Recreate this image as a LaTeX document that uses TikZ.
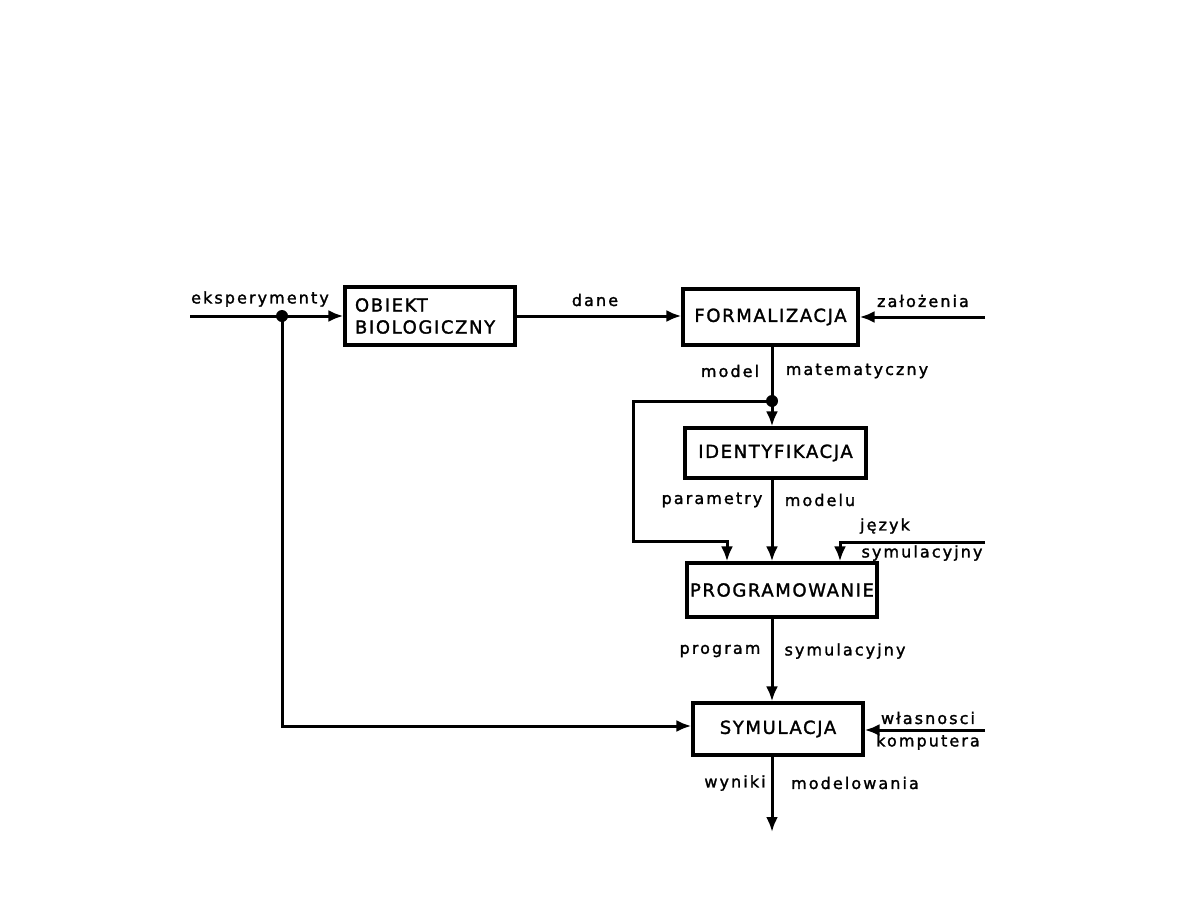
\documentclass[tikz,border=0pt]{standalone}
\usepackage{fontspec}
\setmainfont{DejaVu Sans}
\newfontfamily\boxfont{DejaVu Sans}[LetterSpace=9, FakeBold=1.6]
\newfontfamily\labfont{DejaVu Sans}[LetterSpace=13, FakeBold=1.6]
\usetikzlibrary{arrows.meta}

\begin{document}
\begin{tikzpicture}[x=1pt, y=-1pt,
    block/.style={draw, line width=3.2pt, inner sep=0pt, font=\boxfont\fontsize{18}{22}\selectfont},
    lab/.style={inner sep=0pt, font=\labfont\fontsize{16}{19}\selectfont},
    flow/.style={line width=3pt},
    arr/.style={flow, -{Latex[length=15pt,width=12pt]}},
    dot/.style={circle, fill, inner sep=0pt, minimum size=12pt}]
    \useasboundingbox (0,0) rectangle (1188,918);
    % bloki
    \node[block, minimum width=170pt, minimum height=58pt, align=left, text width=150pt] (obiekt) at (430,316) {OBIEKT\\BIOLOGICZNY};
    \node[block, minimum width=175pt, minimum height=56pt] (formal) at (770.5,317) {FORMALIZACJA};
    \node[block, minimum width=181pt, minimum height=50pt] (ident) at (775.5,453) {IDENTYFIKACJA};
    \node[block, minimum width=190pt, minimum height=54pt] (prog) at (782,590) {PROGRAMOWANIE};
    \node[block, minimum width=170pt, minimum height=52pt] (sym) at (778,729) {SYMULACJA};
    % punkty
    \coordinate (eksIn) at (190,316);
    \coordinate (zalIn) at (985,317);
    \coordinate (jezIn) at (985,542);
    \coordinate (komIn) at (985,730);
    \coordinate (wynOut) at (772,832);
    \node[dot] (j1) at (282,316) {};
    \node[dot] (j2) at (772,401) {};
    % polaczenia
    \draw[arr] (eksIn) -- (obiekt.west |- eksIn);
    \draw[arr] (obiekt.east) -- (formal.west |- obiekt.east);
    \draw[arr] (zalIn) -- (formal.east |- zalIn);
    \draw[flow] (formal.south -| j2) -- (j2.center);
    \draw[arr] (j2.center) -- (ident.north -| j2);
    \draw[arr] (j2.center) -- (633,401) -- (633,541) -- (727,541) -- (prog.north -| 727,0);
    \draw[arr] (ident.south -| j2) -- (prog.north -| j2);
    \draw[arr] (jezIn) -- (840,542) -- (prog.north -| 840,0);
    \draw[arr] (prog.south -| j2) -- (sym.north -| j2);
    \draw[arr] (j1.center) -- (282,726) -- (sym.west |- 0,726);
    \draw[arr] (komIn) -- (sym.east |- komIn);
    \draw[arr] (sym.south -| j2) -- (wynOut);
    % opisy
    \node[lab] (eks) at (260,299) {eksperymenty};
    \node[lab] (dane) at (595,300) {dane};
    \node[lab] (zal) at (923,301) {założenia};
    \node[lab] (mod) at (730,371) {model};
    \node[lab] (mat) at (857,371) {matematyczny};
    \node[lab] (par) at (712,500) {parametry};
    \node[lab] (modu) at (820,500) {modelu};
    \node[lab] (jez) at (885,526) {język};
    \node[lab] (jezs) at (922,553) {symulacyjny};
    \node[lab] (pro) at (720,651) {program};
    \node[lab] (pros) at (845,651) {symulacyjny};
    \node[lab] (wla) at (928,718) {własnosci};
    \node[lab] (kom) at (928,742) {komputera};
    \node[lab] (wyn) at (735,783) {wyniki};
    \node[lab] (mdl) at (855,783) {modelowania};
\end{tikzpicture}
\end{document}
